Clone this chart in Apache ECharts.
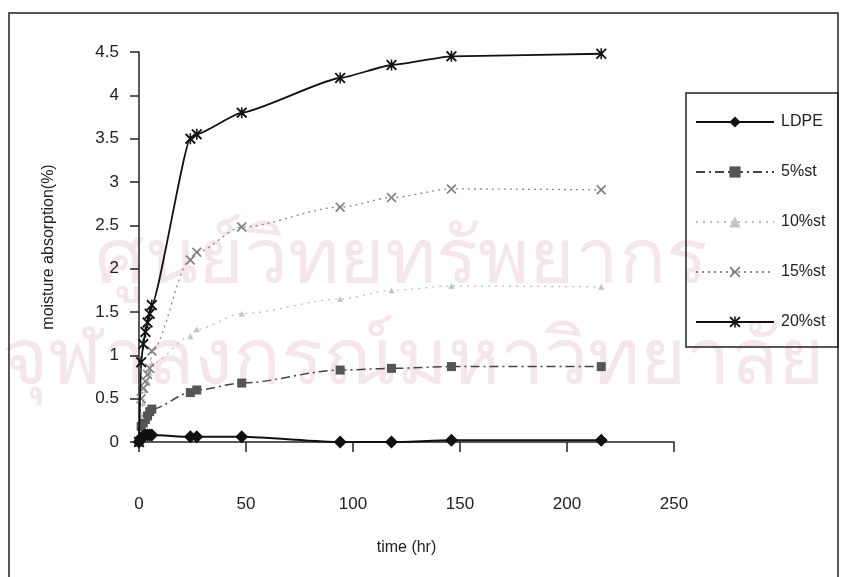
<!DOCTYPE html>
<html>
<head>
<meta charset="utf-8">
<script src="https://cdn.jsdelivr.net/npm/echarts@6/dist/echarts.min.js"></script>
<style>html,body{margin:0;padding:0;background:#fff;}#c{width:841px;height:577px;}</style>
</head>
<body>
<div id="c"></div>
<script>
const times   = [0, 1, 2, 3, 4, 5, 6, 24, 27, 48, 94, 118, 146, 216];
const ldpe    = [0, 0.05, 0.07, 0.08, 0.08, 0.08, 0.08, 0.06, 0.06, 0.06, 0, 0, 0.02, 0.02];
const st5     = [0, 0.18, 0.22, 0.26, 0.3, 0.35, 0.38, 0.57, 0.6, 0.68, 0.83, 0.85, 0.87, 0.87];
const st10    = [0, 0.3, 0.45, 0.6, 0.7, 0.8, 0.9, 1.22, 1.3, 1.48, 1.65, 1.75, 1.8, 1.79];
const st15    = [0, 0.5, 0.62, 0.7, 0.78, 0.85, 1.05, 2.1, 2.19, 2.48, 2.71, 2.82, 2.92, 2.91];
const st20    = [0, 0.92, 1.13, 1.27, 1.38, 1.48, 1.58, 3.5, 3.55, 3.8, 4.2, 4.35, 4.45, 4.48];
const seriesNames = ['LDPE', '5%st', '10%st', '15%st', '20%st'];
const xTicks = [0, 50, 100, 150, 200, 250];
const yTicks = [0, 0.5, 1, 1.5, 2, 2.5, 3, 3.5, 4, 4.5];

const pairs = v => times.map((t, i) => [t, v[i]]);
const FONT = 'Arial, "Liberation Sans", sans-serif';
const XSYM = 'path://M0,1.2L1.2,0L5,3.8L8.8,0L10,1.2L6.2,5L10,8.8L8.8,10L5,6.2L1.2,10L0,8.8L3.8,5Z';
const STAR = 'path://M0,1.2L1.2,0L5,3.8L8.8,0L10,1.2L6.2,5L10,8.8L8.8,10L5,6.2L1.2,10L0,8.8L3.8,5ZM4.3,0L5.7,0L5.7,10L4.3,10Z';

const chart = echarts.init(document.getElementById('c'), null, {renderer: 'canvas'});
chart.setOption({
  animation: false,
  backgroundColor: '#fff',
  graphic: [
    {type: 'text', z: -10, left: 95, top: 222, style: {text: 'ศูนย์วิทยทรัพยากร', font: '78px "Noto Sans", "DejaVu Sans", sans-serif', fill: '#f5e5ed'}},
    {type: 'text', z: -10, left: 2, top: 322, style: {text: 'จุฬาลงกรณ์มหาวิทยาลัย', font: '79px "Noto Sans", "DejaVu Sans", sans-serif', fill: '#f5e5ed'}},
    {type: 'rect', z: 1, shape: {x: 9, y: 13, width: 829, height: 600}, style: {fill: null, stroke: '#222', lineWidth: 1.5}},
    {type: 'rect', z: 1, shape: {x: 686, y: 93, width: 152, height: 254}, style: {fill: null, stroke: '#222', lineWidth: 1.5}}
  ],
  grid: {left: 139, top: 52, right: 167, bottom: 135, containLabel: false},
  xAxis: {
    type: 'value', min: 0, max: 250, interval: 50,
    name: 'time (hr)', nameLocation: 'middle', nameGap: 98,
    nameTextStyle: {fontFamily: FONT, fontSize: 16, color: '#222'},
    axisLine: {onZero: false, lineStyle: {color: '#222', width: 1.5}},
    axisTick: {show: true, inside: false, length: 10, lineStyle: {color: '#222', width: 1.5}},
    axisLabel: {margin: 54, fontFamily: FONT, fontSize: 17, color: '#222',
      formatter: v => xTicks.includes(v) ? String(v) : ''},
    splitLine: {show: false}
  },
  yAxis: {
    type: 'value', min: 0, max: 4.5, interval: 0.5,
    name: 'moisture absorption(%)', nameLocation: 'middle', nameGap: 82,
    nameTextStyle: {fontFamily: FONT, fontSize: 16, color: '#222'},
    axisLine: {show: true, lineStyle: {color: '#222', width: 1.5}},
    axisTick: {show: true, inside: false, length: 9, lineStyle: {color: '#222', width: 1.5}},
    axisLabel: {margin: 20, fontFamily: FONT, fontSize: 17, color: '#222',
      formatter: v => { const t = yTicks.find(y => Math.abs(y - v) < 1e-9); return t === undefined ? '' : String(t); }},
    splitLine: {show: false}
  },
  legend: {
    orient: 'vertical', left: 690, top: 109,
    itemWidth: 78, itemHeight: 14, itemGap: 34,
    textStyle: {fontFamily: FONT, fontSize: 16, color: '#222', padding: [0, 0, 0, 2]},
    data: seriesNames
  },
  series: [
    {name: '5%st', type: 'line', data: pairs(st5), smooth: 0.3, smoothMonotone: 'x', z: 3,
      symbol: 'rect', symbolSize: 9,
      itemStyle: {color: '#555'}, lineStyle: {color: '#444', width: 1.5, type: [9, 4, 2, 4]}},
    {name: '10%st', type: 'line', data: pairs(st10), smooth: 0.3, smoothMonotone: 'x', z: 3,
      symbol: 'triangle', symbolSize: 6,
      itemStyle: {color: '#c4c4c4'}, lineStyle: {color: '#bdbdbd', width: 1.3, type: [2, 5]}},
    {name: '15%st', type: 'line', data: pairs(st15), smooth: 0.3, smoothMonotone: 'x', z: 3,
      symbol: XSYM, symbolSize: 10,
      itemStyle: {color: '#808080'}, lineStyle: {color: '#8a8a8a', width: 1.3, type: [2, 4]}},
    {name: '20%st', type: 'line', data: pairs(st20), smooth: 0.15, smoothMonotone: 'x', z: 4,
      symbol: STAR, symbolSize: 11,
      itemStyle: {color: '#111'}, lineStyle: {color: '#111', width: 1.8}},
    {name: 'LDPE', type: 'line', data: pairs(ldpe), smooth: 0.2, smoothMonotone: 'x', z: 5,
      symbol: 'diamond', symbolSize: 13,
      itemStyle: {color: '#111'}, lineStyle: {color: '#111', width: 2}}
  ]
});
</script>
</body>
</html>
